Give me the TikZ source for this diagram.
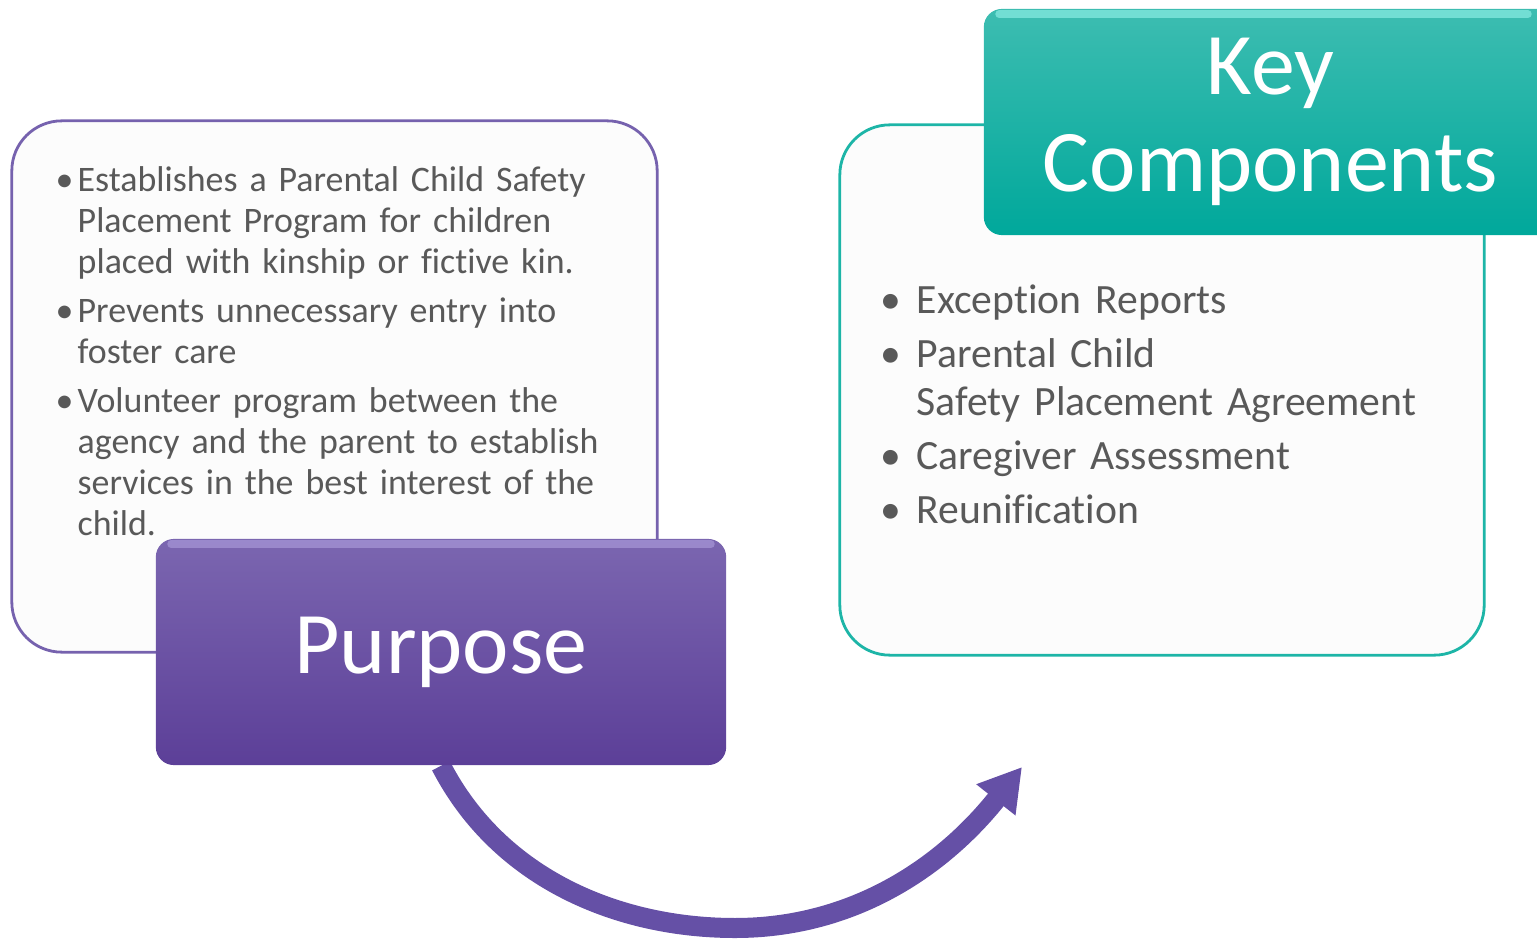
\documentclass[tikz,border=0pt]{standalone}
\usepackage{fontspec}
\setmainfont{Carlito}[Ligatures=NoCommon]
\usetikzlibrary{arrows.meta}
\definecolor{txtgray}{HTML}{595959}
\definecolor{purpTop}{HTML}{7B66B0}
\definecolor{purpBot}{HTML}{5C3F98}
\definecolor{purpLine}{HTML}{7662AE}
\definecolor{purpGloss}{HTML}{A898D8}
\definecolor{tealTop}{HTML}{3DBDB1}
\definecolor{tealBot}{HTML}{00A89B}
\definecolor{tealLine}{HTML}{1DB5A7}
\definecolor{tealGloss}{HTML}{8AEDE4}
\definecolor{boxFill}{HTML}{FCFCFC}
\definecolor{arrowCol}{HTML}{6550A6}
\pgfdeclarelayer{background}
\pgfsetlayers{background,main}
\newcommand\lbul{\par\noindent\hangindent=0.22cm\hangafter=1\makebox[0.22cm][l]{•}}
\newcommand\rbul{\par\noindent\hangindent=0.36cm\hangafter=1\makebox[0.36cm][l]{•}}
\newcommand\lbrk{\hfil\break}
\begin{document}
\begin{tikzpicture}[x=0.01cm,y=-0.01cm,
  panel/.style={draw, line width=0.8pt, fill=boxFill, rounded corners=0.5cm, inner sep=0pt},
  headbox/.style={rounded corners=0.18cm, inner sep=0pt, text=white, align=center},
  gloss/.style={line width=2.2pt, line cap=round, opacity=0.7},
  listtext/.style={anchor=north west, inner sep=0pt, text=txtgray},
  bigarrow/.style={draw=arrowCol, line width=0.2cm, -{Triangle[width=0.47cm,length=0.42cm]}}]
\useasboundingbox (0,0) rectangle (1537,946);
% panels
\node[panel, draw=purpLine, minimum width=6.45cm, minimum height=5.31cm] (purposePanel) at (334.5,386.5) {};
\node[panel, draw=tealLine, minimum width=6.44cm, minimum height=5.30cm] (keyPanel) at (1162,390) {};
% list texts
\node[listtext, text width=6.0cm, font=\fontsize{10.2pt}{11.66pt}\selectfont] (purposeText) at (55,142)
 {\raggedright\setlength\parskip{2.3pt}%
  \lbul Establishes a Parental Child Safety\lbrk Placement Program for children\lbrk placed with kinship or fictive kin.
  \lbul Prevents unnecessary entry into\lbrk foster care
  \lbul Volunteer program between the\lbrk agency and the parent to establish\lbrk services in the best interest of the\lbrk child.\par};
\node[listtext, text width=6.2cm, font=\fontsize{11.85pt}{13.66pt}\selectfont] (keyText) at (880,259)
 {\raggedright\setlength\parskip{1.7pt}%
  \rbul Exception Reports
  \rbul Parental Child\lbrk Safety Placement Agreement
  \rbul Caregiver Assessment
  \rbul Reunification\par};
% header boxes
\node[headbox, top color=purpTop, bottom color=purpBot, minimum width=5.70cm, minimum height=2.26cm,
  font=\fontsize{25pt}{28pt}\selectfont] (purpose) at (441,652) {Purpose};
\draw[gloss, draw=purpGloss] ([xshift=0.16cm,yshift=-0.06cm]purpose.north west) -- ([xshift=-0.16cm,yshift=-0.06cm]purpose.north east);
\node[headbox, top color=tealTop, bottom color=tealBot, minimum width=5.83cm, minimum height=2.26cm,
  font=\fontsize{25pt}{27.6pt}\selectfont] (keyComp) at (1275.5,122) {\kern-0.1cm Key\\\kern-0.1cm Components};
\draw[gloss, draw=tealGloss] ([xshift=0.16cm,yshift=-0.06cm]keyComp.north west) -- ([xshift=-0.4cm,yshift=-0.06cm]keyComp.north east);
% arrow
\coordinate (arrowEnd) at (1022,767);
\begin{pgfonlayer}{background}
\draw[bigarrow] (purpose.south) .. controls (500,880) and (620,928) .. (735,928)
  .. controls (850,928) and (940,870) .. (arrowEnd);
\end{pgfonlayer}
\end{tikzpicture}
\end{document}
